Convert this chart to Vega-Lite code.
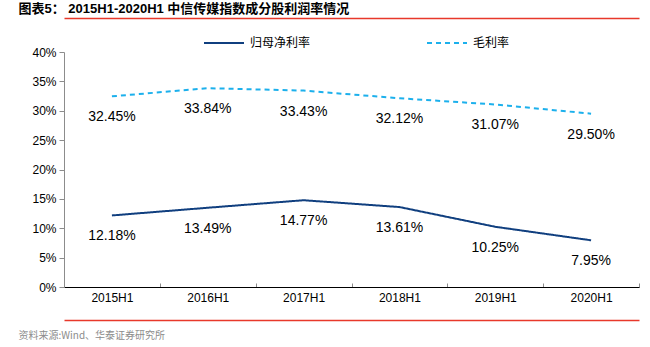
{
  "$schema": "https://vega.github.io/schema/vega-lite/v6.json",
  "width": 575,
  "height": 235,
  "autosize": {"type": "none"},
  "padding": {"left": 64, "top": 52, "right": 11, "bottom": 60},
  "background": "white",
  "config": {"view": {"stroke": null}, "font": "Liberation Sans"},
  "data": {
    "values": [
      {"period": "2015H1", "series": "归母净利率", "value": 0.1218},
      {"period": "2016H1", "series": "归母净利率", "value": 0.1349},
      {"period": "2017H1", "series": "归母净利率", "value": 0.1477},
      {"period": "2018H1", "series": "归母净利率", "value": 0.1361},
      {"period": "2019H1", "series": "归母净利率", "value": 0.1025},
      {"period": "2020H1", "series": "归母净利率", "value": 0.0795},
      {"period": "2015H1", "series": "毛利率", "value": 0.3245},
      {"period": "2016H1", "series": "毛利率", "value": 0.3384},
      {"period": "2017H1", "series": "毛利率", "value": 0.3343},
      {"period": "2018H1", "series": "毛利率", "value": 0.3212},
      {"period": "2019H1", "series": "毛利率", "value": 0.3107},
      {"period": "2020H1", "series": "毛利率", "value": 0.2950}
    ]
  },
  "encoding": {
    "y": {
      "field": "value",
      "type": "quantitative",
      "scale": {"domain": [0, 0.4], "nice": false},
      "axis": {
        "values": [0, 0.05, 0.1, 0.15, 0.2, 0.25, 0.3, 0.35, 0.4],
        "format": ".0%",
        "title": null,
        "grid": false,
        "domainColor": "#8c8c8c",
        "tickColor": "#8c8c8c",
        "tickSize": 5,
        "labelPadding": 3,
        "labelFontSize": 12,
        "labelColor": "#000000",
        "labelFont": "Liberation Sans"
      }
    }
  },
  "layer": [
    {
      "mark": {"type": "line", "strokeWidth": 2},
      "encoding": {
        "x": {
          "field": "period",
          "type": "ordinal",
          "bandPosition": 0.5,
          "scale": {"type": "band", "paddingInner": 0, "paddingOuter": 0},
          "axis": {
            "orient": "bottom",
            "title": null,
            "labelAngle": 0,
            "labelFontSize": 12,
            "labelColor": "#000000",
            "labelPadding": 9,
            "domainColor": "#000000",
            "tickBand": "extent",
            "tickSize": -4,
            "tickColor": "#8c8c8c",
            "grid": false
          }
        },
        "color": {
          "field": "series",
          "type": "nominal",
          "scale": {"domain": ["归母净利率", "毛利率"], "range": ["#103f7f", "#1cb0ec"]},
          "legend": {
            "title": null,
            "orient": "none",
            "direction": "horizontal",
            "legendX": 139,
            "legendY": -30,
            "padding": 0,
            "symbolType": "stroke",
            "symbolSize": 1600,
            "symbolStrokeWidth": 2,
            "labelFont": "Noto Sans CJK SC",
            "labelFontSize": 12,
            "labelColor": "#000000",
            "labelOffset": 5,
            "columnPadding": 112
          }
        },
        "strokeDash": {
          "field": "series",
          "type": "nominal",
          "scale": {"domain": ["归母净利率", "毛利率"], "range": [[1, 0], [5, 4]]},
          "legend": {
            "title": null,
            "orient": "none",
            "direction": "horizontal",
            "legendX": 139,
            "legendY": -30,
            "padding": 0,
            "symbolType": "stroke",
            "symbolSize": 1600,
            "symbolStrokeWidth": 2,
            "labelFont": "Noto Sans CJK SC",
            "labelFontSize": 12,
            "labelColor": "#000000",
            "labelOffset": 5,
            "columnPadding": 112
          }
        }
      }
    },
    {
      "mark": {"type": "text", "baseline": "middle", "dy": 21, "fontSize": 14, "color": "#000000", "font": "Liberation Sans"},
      "encoding": {
        "x": {
          "field": "period",
          "type": "ordinal",
          "bandPosition": 0.5,
          "axis": {
            "orient": "top",
            "offset": 34,
            "labels": false,
            "ticks": false,
            "grid": false,
            "domainColor": "#e8382b",
            "domainWidth": 1.5,
            "title": "图表5：  2015H1-2020H1 中信传媒指数成分股利润率情况",
            "titleFont": "Liberation Sans, Noto Sans CJK SC",
            "titleFontSize": 13,
            "titleFontWeight": "bold",
            "titleColor": "#000000",
            "titleAnchor": "start",
            "titleAlign": "left",
            "titleBaseline": "middle",
            "titleAngle": 0,
            "titleX": -46,
            "titleY": -10
          }
        },
        "text": {"field": "value", "type": "quantitative", "format": ".2%"}
      }
    },
    {
      "mark": {"type": "rule", "opacity": 0},
      "encoding": {
        "x": {
          "field": "period",
          "type": "ordinal",
          "bandPosition": 0.5,
          "axis": {
            "orient": "bottom",
            "offset": 33,
            "labels": false,
            "ticks": false,
            "grid": false,
            "domainColor": "#e8382b",
            "domainWidth": 1.5,
            "title": "资料来源:Wind、华泰证券研究所",
            "titleFont": "Noto Sans CJK SC",
            "titleFontSize": 10,
            "titleFontWeight": "normal",
            "titleColor": "#8c8c8c",
            "titleAnchor": "start",
            "titleAlign": "left",
            "titleBaseline": "middle",
            "titleX": -46,
            "titleY": 15
          }
        }
      }
    }
  ],
  "resolve": {"axis": {"x": "independent"}}
}
